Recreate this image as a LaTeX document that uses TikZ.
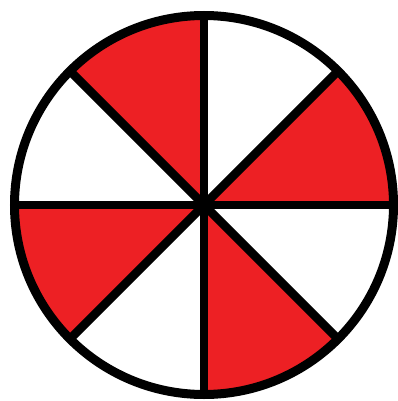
\documentclass[tikz,border=0pt]{standalone}
\usetikzlibrary{calc}
\definecolor{piered}{RGB}{237,32,36}
\begin{document}
\begin{tikzpicture}[x=1pt, y=-1pt]
  \useasboundingbox (0,0) rectangle (398,401);
  \coordinate (o) at (204,205);
  \foreach \a in {0,90,180,270}
    \fill[piered] (o) -- ++(-\a:190) arc[start angle=-\a, end angle=-\a-45, radius=190] -- cycle;
  \foreach \a in {0,45,...,135}
    \draw[line width=8.5pt] ($(o)+(\a:190)$) -- ($(o)+(\a+180:190)$);
  \draw[line width=9pt] (o) circle[radius=189.5];
\end{tikzpicture}
\end{document}
